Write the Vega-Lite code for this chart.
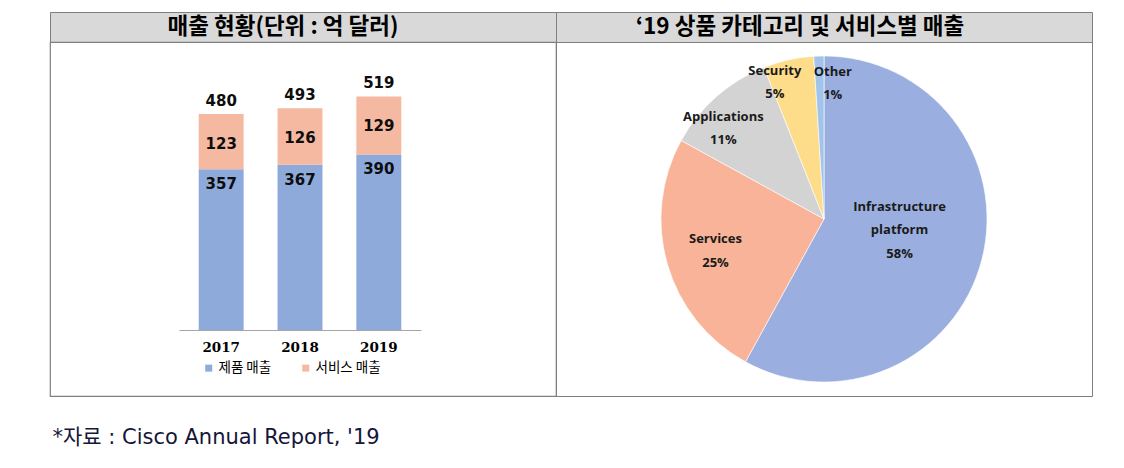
{
  "$schema": "https://vega.github.io/schema/vega-lite/v6.json",
  "padding": {"left": 49, "top": 11, "right": 0, "bottom": 0},
  "background": "white",
  "columns": 2,
  "spacing": 0,
  "bounds": "flush",
  "resolve": {"scale": {"color": "independent"}, "legend": {"color": "independent"}},
  "title": {"text": "*자료 : Cisco Annual Report, '19", "orient": "bottom", "anchor": "start", "offset": 30, "dx": 3, "fontSize": 21, "fontWeight": "normal", "font": "DejaVu Sans, Noto Sans CJK KR", "color": "#16163a"},
  "config": {"view": {"stroke": "#7f7f7f", "strokeWidth": 1.2}},
  "concat": [
    {
      "width": 506, "height": 30,
      "view": {"fill": "#d9d9d9", "stroke": "#7f7f7f"},
      "data": {"values": [{"t": "매출 현황(단위 : 억 달러)"}]},
      "mark": {"type": "text", "font": "Noto Sans CJK KR", "fontSize": 22.5, "fontWeight": "bold", "color": "#000000", "dx": -20, "baseline": "middle", "align": "center"},
      "encoding": {"text": {"field": "t", "type": "nominal"}}
    },
    {
      "width": 536, "height": 30,
      "view": {"fill": "#d9d9d9", "stroke": "#7f7f7f"},
      "data": {"values": [{"t": "‘19 상품 카테고리 및 서비스별 매출"}]},
      "mark": {"type": "text", "font": "Noto Sans CJK KR", "fontSize": 22.5, "fontWeight": "bold", "color": "#000000", "dx": -24, "baseline": "middle", "align": "center"},
      "encoding": {"text": {"field": "t", "type": "nominal"}}
    },
    {
      "width": 506, "height": 354,
      "view": {"stroke": "#7f7f7f"},
      "data": {"values": [
        {"year": "2017", "cat": "제품 매출", "value": 357},
        {"year": "2017", "cat": "서비스 매출", "value": 123},
        {"year": "2018", "cat": "제품 매출", "value": 367},
        {"year": "2018", "cat": "서비스 매출", "value": 126},
        {"year": "2019", "cat": "제품 매출", "value": 390},
        {"year": "2019", "cat": "서비스 매출", "value": 129}
      ]},
      "encoding": {
        "x": {"field": "year", "type": "ordinal",
          "scale": {"range": [129, 371], "paddingInner": 0.43, "paddingOuter": 0.25},
          "axis": {"orient": "bottom", "offset": -66, "title": null, "labelAngle": 0, "ticks": false, "domainColor": "#a6a6a6", "domainWidth": 1, "labelFont": "DejaVu Serif", "labelFontWeight": "bold", "labelFontSize": 13.5, "labelColor": "#000000", "labelPadding": 10}},
        "y": {"field": "value", "type": "quantitative", "stack": "zero",
          "scale": {"domain": [-146.67, 640], "nice": false, "zero": false}, "axis": null},
        "order": {"field": "cat", "sort": "descending"}
      },
      "layer": [
        {
          "mark": {"type": "bar"},
          "encoding": {
            "color": {"field": "cat", "type": "nominal",
              "scale": {"domain": ["제품 매출", "서비스 매출"], "range": ["#8eaadb", "#f5b8a0"]},
              "legend": {"orient": "none", "legendX": 152, "legendY": 319, "direction": "horizontal", "title": null, "symbolType": "square", "symbolSize": 49, "symbolStrokeWidth": 0, "symbolOpacity": 1, "labelFont": "Noto Sans CJK KR", "labelFontSize": 13.5, "labelColor": "#000000", "labelOffset": 3, "columnPadding": 27}}
          }
        },
        {
          "mark": {"type": "text", "font": "DejaVu Sans", "fontWeight": "bold", "fontSize": 15, "color": "#0d0d0d", "dy": 15, "baseline": "middle"},
          "encoding": {
            "detail": {"field": "cat"},
            "text": {"condition": {"test": "datum.cat === '제품 매출'", "field": "value", "type": "quantitative"}, "value": ""}
          }
        },
        {
          "mark": {"type": "text", "font": "DejaVu Sans", "fontWeight": "bold", "fontSize": 15, "color": "#0d0d0d", "dy": 30, "baseline": "middle"},
          "encoding": {
            "detail": {"field": "cat"},
            "text": {"condition": {"test": "datum.cat === '서비스 매출'", "field": "value", "type": "quantitative"}, "value": ""}
          }
        },
        {
          "mark": {"type": "text", "font": "DejaVu Sans", "fontWeight": "bold", "fontSize": 15, "color": "#0d0d0d", "dy": -13, "baseline": "middle"},
          "encoding": {
            "y": {"aggregate": "sum", "field": "value", "type": "quantitative"},
            "text": {"aggregate": "sum", "field": "value", "type": "quantitative"},
            "order": null
          }
        }
      ]
    },
    {
      "width": 536, "height": 354,
      "view": {"stroke": "#7f7f7f"},
      "data": {"values": [
        {"cat": "Infrastructure platform", "label": "Infrastructure\nplatform\n58%", "v": 58},
        {"cat": "Services", "label": "Services\n25%", "v": 25},
        {"cat": "Applications", "label": "Applications\n11%", "v": 11},
        {"cat": "Security", "label": "Security\n5%", "v": 5},
        {"cat": "Other", "label": "Other\n1%", "v": 1}
      ]},
      "encoding": {
        "theta": {"field": "v", "type": "quantitative", "stack": true},
        "order": {"field": "v", "type": "quantitative", "sort": "descending"},
        "radius": {"field": "v", "type": "quantitative",
          "scale": {"type": "linear", "domain": [1, 5, 11, 25, 58], "range": [136, 143, 137, 113, 78], "zero": false, "nice": false}},
        "detail": {"field": "cat"}
      },
      "layer": [
        {
          "mark": {"type": "arc", "outerRadius": 163, "stroke": "#ffffff", "strokeWidth": 0.6},
          "encoding": {
            "radius": null,
            "color": {"field": "cat", "type": "nominal", "legend": null,
              "scale": {"domain": ["Infrastructure platform", "Services", "Applications", "Security", "Other"],
                        "range": ["#9aafdf", "#f8b398", "#d3d3d3", "#fddc8a", "#a3c4ea"]}}
          }
        },
        {
          "mark": {"type": "text", "font": "Open Sans", "fontWeight": "bold", "fontSize": 13, "color": "#1a1a1a", "lineBreak": "\n", "lineHeight": 23.5, "baseline": "middle", "align": "center", "dy": -31.5},
          "encoding": {
            "text": {"condition": {"test": "datum.cat === 'Infrastructure platform'", "field": "label", "type": "nominal"}, "value": ""}
          }
        },
        {
          "mark": {"type": "text", "font": "Open Sans", "fontWeight": "bold", "fontSize": 13, "color": "#1a1a1a", "lineBreak": "\n", "lineHeight": 24, "baseline": "middle", "align": "center", "dy": -12},
          "encoding": {
            "text": {"condition": {"test": "datum.cat === 'Services'", "field": "label", "type": "nominal"}, "value": ""}
          }
        },
        {
          "mark": {"type": "text", "font": "Open Sans", "fontWeight": "bold", "fontSize": 13, "color": "#1a1a1a", "lineBreak": "\n", "lineHeight": 23, "baseline": "middle", "align": "center", "dx": -10, "dy": 1},
          "encoding": {
            "text": {"condition": {"test": "datum.cat === 'Applications'", "field": "label", "type": "nominal"}, "value": ""}
          }
        },
        {
          "mark": {"type": "text", "font": "Open Sans", "fontWeight": "bold", "fontSize": 13, "color": "#1a1a1a", "lineBreak": "\n", "lineHeight": 23, "baseline": "middle", "align": "center", "dx": -18, "dy": -8},
          "encoding": {
            "text": {"condition": {"test": "datum.cat === 'Security'", "field": "label", "type": "nominal"}, "value": ""}
          }
        },
        {
          "mark": {"type": "text", "font": "Open Sans", "fontWeight": "bold", "fontSize": 13, "color": "#1a1a1a", "lineBreak": "\n", "lineHeight": 23, "baseline": "middle", "align": "center", "dx": 13, "dy": -11.5},
          "encoding": {
            "text": {"condition": {"test": "datum.cat === 'Other'", "field": "label", "type": "nominal"}, "value": ""}
          }
        }
      ]
    }
  ]
}
